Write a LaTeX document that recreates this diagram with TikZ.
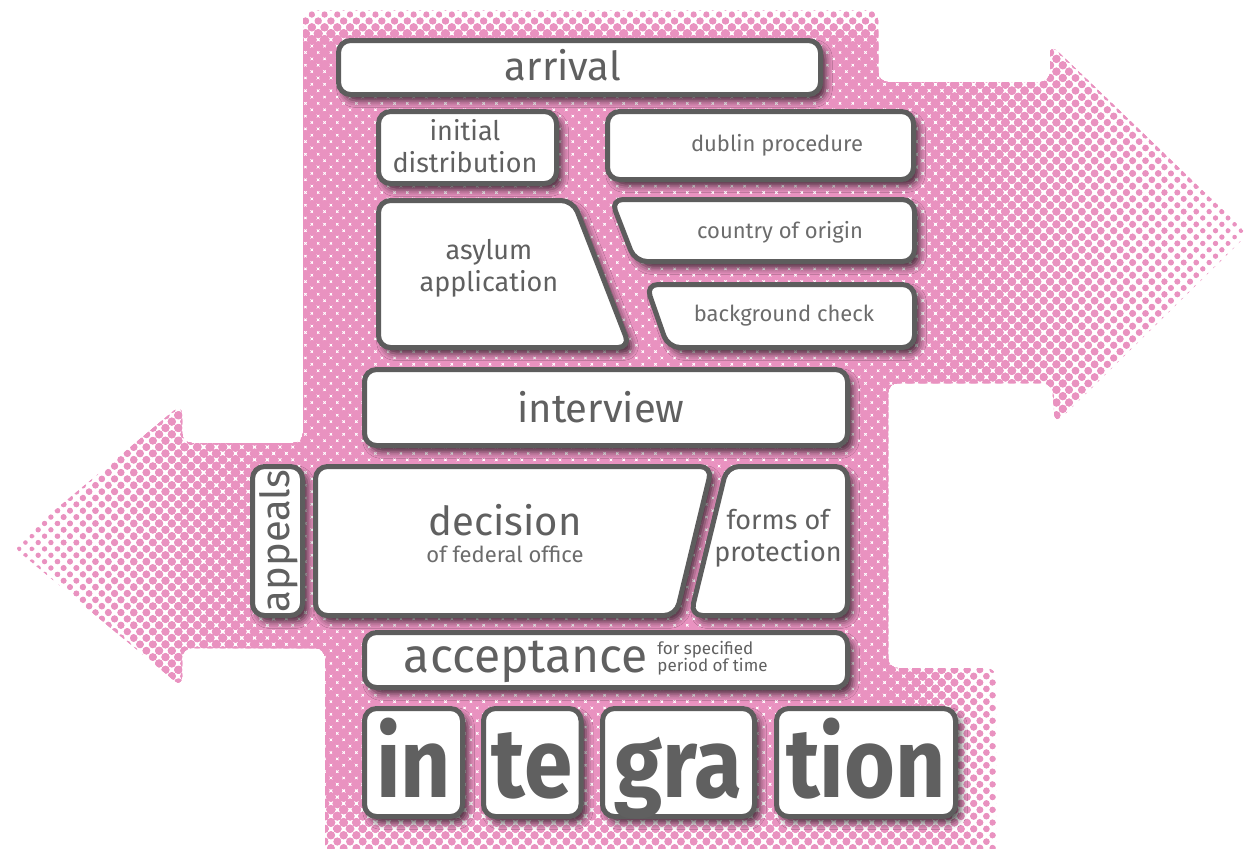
\documentclass[tikz,border=0pt]{standalone}
\usepackage{fontspec}
\setmainfont{Fira Sans}
\usetikzlibrary{shadows.blur, patterns.meta}

\definecolor{dotpink}{HTML}{E992C0}
\definecolor{frame}{HTML}{5D5D5D}
\definecolor{ink}{HTML}{606060}
\definecolor{softink}{HTML}{6C6C6C}

\begin{document}
\begin{tikzpicture}[x=0.5pt, y=-0.5pt,
    card/.style={draw=frame, line width=2.5pt, fill=white, rounded corners=6pt,
      blur shadow={shadow xshift=2.5pt, shadow yshift=-3pt, shadow blur radius=3.5pt, shadow opacity=70}},
    txt/.style={text=ink, align=center, inner sep=0pt},
    huge/.style={txt, font=\fontsize{20}{22}\selectfont},
    mid/.style={txt, font=\fontsize{13.5}{16}\selectfont},
    tiny/.style={txt, text=softink, font=\fontsize{11}{13}\selectfont},
    word/.style={txt, anchor=base, xscale=0.89, font=\fontsize{49}{49}\selectfont\bfseries}]

  \useasboundingbox (0,0) rectangle (1249,848);

  % Halftone arrows behind the cards: bigger dots towards the middle
  \begin{scope}
    \clip[rounded corners=5pt] (303,10) -- (878,10) -- (878,82) -- (1050,82) -- (1050,44)
      -- (1248,234) -- (1055,424) -- (1052,383) -- (888,383) -- (888,668) -- (996,668)
      -- (996,860) -- (325,860) -- (325,648) -- (182,648) -- (182,687) -- (12,546)
      -- (182,404) -- (182,443) -- (303,443) -- cycle;
    \foreach \k in {0,...,12} {
      \pgfmathsetmacro\t{1-\k/12}
      \pgfmathsetmacro\r{(5.2-2.9*\t*sqrt(\t))/2}
      \fill[pattern={Dots[radius=\r pt, distance=4.5pt, angle=45]}, pattern color=dotpink]
        (300-290*\t, 45-40*\t) rectangle (880+380*\t, 500)
        (300-290*\t, 500) rectangle (880+150*\t, 780+120*\t);
    }
  \end{scope}

  % Cards, top to bottom
  \draw[card] (338.5,40.5) rectangle (820.5,94.5);
  \draw[card] (378.5,111.5) rectangle (556.5,183.5);
  \draw[card] (607.5,111.5) rectangle (913.5,179.5);
  \draw[card] (378.5,200.5) -- (573,200.5) -- (630,347.5) -- (378.5,347.5) -- cycle;
  \draw[card] (611,199.5) -- (914.5,199.5) -- (914.5,261.5) -- (635,261.5) -- cycle;
  \draw[card] (646,284.5) -- (914.5,284.5) -- (914.5,347.5) -- (668,347.5) -- cycle;
  \draw[card] (364.5,369.5) rectangle (847.5,445.5);
  \draw[card] (252.5,466.5) rectangle (302.5,615.5);
  \draw[card] (315.5,466.5) -- (712,466.5) -- (676,615.5) -- (315.5,615.5) -- cycle;
  \draw[card] (727,466.5) -- (847.5,466.5) -- (847.5,615.5) -- (690.5,615.5) -- cycle;
  \draw[card] (364.5,632.5) rectangle (847.5,687.5);

  % the four integration tiles
  \draw[card] (364.5,708.5) rectangle (462.5,816.5);
  \draw[card] (483.5,708.5) rectangle (581,816.5);
  \draw[card] (602.5,708.5) rectangle (754.5,816.5);
  \draw[card] (776.5,708.5) rectangle (955.5,816.5);

  % Labels
  \node[huge, anchor=base] (arrival) at (563,80) {arrival};
  \node[mid] (initial) at (465,146) {initial\\distribution};
  \node[tiny, anchor=base] (dublin) at (777,151) {dublin procedure};
  \node[mid] (asylum) at (489,268) {asylum\\application};
  \node[tiny, anchor=base] (origin) at (780,238) {country of origin};
  \node[tiny, anchor=base] (check) at (784,321) {background check};
  \node[huge, anchor=base] (interview) at (601,422) {interview};
  \node[huge, rotate=90] (appeals) at (279,541) {appeals};
  \node[huge, anchor=base] (decision) at (505,535) {decision};
  \node[tiny, anchor=base] (office) at (505,562) {of federal office};
  \node[mid] (forms) at (778,538) {forms of\\protection};
  \node[txt, anchor=base, font=\fontsize{24}{26}\selectfont] (acceptance) at (526,672) {acceptance};
  \node[txt, anchor=west, align=left, font=\fontsize{8.5}{8.5}\selectfont] (period) at (657,658) {for specified\\period of time};

  % integration, split over the tiles
  \node[word] (in) at (413.5,797) {in};
  \node[word] (te) at (532,797) {te};
  \node[word] (gra) at (678.5,797) {gra};
  \node[word] (tion) at (866,797) {tion};
\end{tikzpicture}
\end{document}
